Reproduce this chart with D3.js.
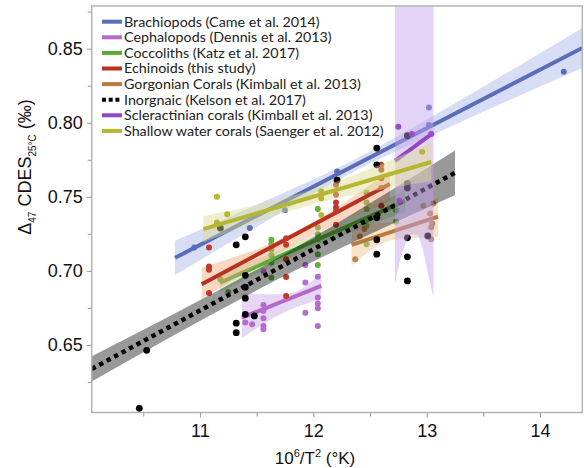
<!DOCTYPE html>
<html>
<head>
<meta charset="utf-8">
<script src="https://cdn.jsdelivr.net/npm/d3@7"></script>
<style>
body { margin: 0; background: #fff; }
</style>
</head>
<body>
<svg id="chart"></svg>
<script>
// points, [10^6/T^2, D47]
var brachiopods = [[10.95,0.7158],[11.44,0.7289],[11.75,0.741],[12.21,0.7671],[13.02,0.8103],[13.02,0.7985],[14.21,0.8345]]
var cephalopods = [[11.40,0.6651],[11.46,0.664],[11.56,0.700],[11.56,0.677],[11.56,0.673],[11.56,0.668],[11.56,0.6628],[11.56,0.6606],
    [11.93,0.7039],[11.93,0.6921],[11.93,0.6718],[12.04,0.6961],[12.04,0.682],[12.04,0.6779],[12.04,0.6748],[12.04,0.6628]]
var coccoliths = [[11.18,0.6944],[11.25,0.6858],[11.63,0.721],[11.63,0.718],[11.63,0.7142],[11.63,0.7106],[11.63,0.7056],[11.63,0.6955],
    [12.04,0.7417],[12.04,0.7293],[12.04,0.7248],[12.04,0.7214],[12.04,0.7113],[12.04,0.704],
    [12.47,0.7529],[12.47,0.7462],[12.47,0.7417],[12.47,0.7345],[12.47,0.7304],[12.47,0.718],[12.73,0.741],[12.73,0.7333]]
var echinoids = [[11.08,0.7158],[11.08,0.7029],[11.08,0.7007],[11.08,0.685],
    [11.76,0.7221],[11.76,0.7176],[11.76,0.7079],[11.76,0.6959],[11.76,0.6831],
    [12.20,0.7581],[12.20,0.7514],[12.20,0.7462],[12.20,0.7428],[12.20,0.7401],[12.20,0.7311],
    [12.60,0.7716],[12.60,0.7682],[12.60,0.7626],[12.60,0.7559],[12.60,0.7439]]
var gorgonian = [[12.37,0.7079],[12.41,0.7232],[12.45,0.7282],[12.97,0.744],[13.06,0.7455],[13.03,0.7387],[13.05,0.732],[13.04,0.7294],[13.04,0.7214]]
var inorganic = [[10.465,0.6072],[10.53,0.6464],[11.18,0.7289],[11.32,0.7176],[11.40,0.723],[11.40,0.697],[11.40,0.689],[11.40,0.6816],
    [11.40,0.6707],[11.32,0.6647],[11.32,0.6583],[11.48,0.6696],[12.21,0.7613],[12.56,0.7829],[12.56,0.7716],[12.56,0.736],
    [12.56,0.721],[12.56,0.7113],[12.83,0.7912],[12.83,0.759],[12.83,0.756],[12.83,0.7223],[12.83,0.7095],[12.83,0.6932],[13.01,0.7236]]
var scleractinian = [[12.75,0.7973],[12.87,0.7924],[13.04,0.7924],[12.76,0.7473]]
var shallow = [[11.15,0.750],[11.24,0.7383],[11.15,0.7327],[12.07,0.7536],[12.07,0.749],[12.07,0.7378],[12.96,0.7804]]

// fitted lines (end points) and confidence bands [x, lo, hi]
var brachFit = [[10.78,0.7088],[14.373,0.8505]]
var brachBand = [[10.78,0.6973,0.7203],[11.5,0.7297,0.7447],[12.3,0.7647,0.7727],[13.2,0.797,0.811],[14.373,0.837,0.864]]
var cephFit = [[11.37,0.6684],[12.07,0.6899]]
var cephBand = [[11.37,0.6547,0.6845],[11.75,0.6722,0.6842],[12.07,0.6811,0.6986]]
var coccoFit = [[11.176,0.692],[12.81,0.7473]]
var coccoBand = [[11.176,0.6855,0.6985],[12.0,0.7159,0.7239],[12.81,0.7398,0.7548]]
var echinFit = [[11.015,0.691],[12.675,0.7586]]
var echinBand = [[11.015,0.6809,0.7022],[11.85,0.7185,0.7265],[12.675,0.7473,0.7676]]
var gorgFit = [[12.338,0.7176],[13.10,0.7366]]
var gorgBand = [[12.338,0.7036,0.7316],[12.72,0.7212,0.7332],[13.10,0.7231,0.7501]]
var inorgFit = [[10.045,0.6338],[13.25,0.7662]]
var inorgBand = [[10.045,0.6253,0.6423],[11.8,0.6987,0.7137],[13.25,0.7512,0.7812]]
var sclerFit = [[12.72,0.7743],[13.06,0.7934]]
var sclerBand = [[12.72,0.6912,0.95],[12.765,0.707,0.95],[12.81,0.7175,0.95],[12.865,0.7245,0.95],
    [12.91,0.7245,0.95],[12.96,0.716,0.95],[13.01,0.699,0.95],[13.06,0.6818,0.95]]
var shallowFit = [[11.03,0.7282],[13.04,0.7735]]
var shallowBand = [[11.03,0.7194,0.737],[12.0,0.7449,0.7549],[13.04,0.7605,0.7865]]

var legendNames = ["Brachiopods (Came et al. 2014)", "Cephalopods (Dennis et al. 2013)", "Coccoliths (Katz et al. 2017)",
    "Echinoids (this study)", "Gorgonian Corals (Kimball et al. 2013)", "Inorgnaic (Kelson et al. 2017)",
    "Scleractinian corals (Kimball et al. 2013)", "Shallow water corals (Saenger et al. 2012)"]

var xMajor = [11, 12, 13, 14]
var xMinor = [10.5, 11.5, 12.5, 13.5]
var yMajor = [0.65, 0.70, 0.75, 0.80, 0.85]
var yMinor = [0.625, 0.675, 0.725, 0.775, 0.825, 0.875]

var series = [
    {name: legendNames[0], pts: brachiopods, fit: brachFit, band: brachBand, color: "#5a6db7", dot: "#5a6db7", bandFill: "#a9b3ea", bandOp: 0.45},
    {name: legendNames[1], pts: cephalopods, fit: cephFit, band: cephBand, color: "#b56ac9", dot: "#b76ccc", bandFill: "#c9a3e6", bandOp: 0.45},
    {name: legendNames[2], pts: coccoliths, fit: coccoFit, band: coccoBand, color: "#5aaa38", dot: "#62b03c", bandFill: "#a8d890", bandOp: 0.45},
    {name: legendNames[3], pts: echinoids, fit: echinFit, band: echinBand, color: "#b8321f", dot: "#c03a2a", bandFill: "#f0a67a", bandOp: 0.45},
    {name: legendNames[4], pts: gorgonian, fit: gorgFit, band: gorgBand, color: "#b87b3f", dot: "#c0864a", bandFill: "#e8c08a", bandOp: 0.45},
    {name: legendNames[5], pts: inorganic, fit: inorgFit, band: inorgBand, color: "#000", dot: "#000", bandFill: "#000", bandOp: 0.4, dotted: true},
    {name: legendNames[6], pts: scleractinian, fit: sclerFit, band: sclerBand, color: "#9345c2", dot: "#9a4cc6", bandFill: "#c0a0ee", bandOp: 0.45},
    {name: legendNames[7], pts: shallow, fit: shallowFit, band: shallowBand, color: "#b5b733", dot: "#b5b733", bandFill: "#dcdc90", bandOp: 0.45}
]

var dimensions = {
    width: 584,
    height: 468,
    margin: { top: 6, right: 1.7, bottom: 55.5, left: 91.7 }
}

var svg = d3.select("#chart")
    .attr("width", dimensions.width)
    .attr("height", dimensions.height)

var xScale = d3.scaleLinear()
    .domain([10.045, 14.373])
    .range([dimensions.margin.left, dimensions.width - dimensions.margin.right])

var yScale = d3.scaleLinear()
    .domain([0.6044, 0.8788])
    .range([dimensions.height - dimensions.margin.bottom, dimensions.margin.top])

svg.append("clipPath").attr("id", "plotclip")
    .append("rect")
    .attr("x", dimensions.margin.left)
    .attr("y", dimensions.margin.top)
    .attr("width", dimensions.width - dimensions.margin.left - dimensions.margin.right)
    .attr("height", dimensions.height - dimensions.margin.top - dimensions.margin.bottom)

var plot = svg.append("g").attr("clip-path", "url(#plotclip)")

var area = d3.area()
    .x(d => xScale(d[0]))
    .y0(d => yScale(d[1]))
    .y1(d => yScale(d[2]))
    .curve(d3.curveMonotoneX)

var line = d3.line()
    .x(d => xScale(d[0]))
    .y(d => yScale(d[1]))

series.forEach(s => {
    var g = plot.append("g")
    g.append("path")
        .attr("d", area(s.band))
        .attr("fill", s.bandFill)
        .attr("fill-opacity", s.bandOp)
    var fl = g.append("path")
        .attr("d", line(s.fit))
        .attr("fill", "none")
        .attr("stroke", s.color)
        .attr("stroke-width", 4)
    if (s.dotted) fl.attr("stroke-width", 4.5).attr("stroke-dasharray", "4.5,4")
    g.selectAll("circle")
        .data(s.pts)
        .enter()
        .append("circle")
        .attr("cx", d => xScale(d[0]))
        .attr("cy", d => yScale(d[1]))
        .attr("r", s.dotted ? 3.4 : 3)
        .attr("fill", s.dot)
})

// frame
svg.append("rect")
    .attr("x", dimensions.margin.left)
    .attr("y", dimensions.margin.top)
    .attr("width", dimensions.width - dimensions.margin.left - dimensions.margin.right)
    .attr("height", dimensions.height - dimensions.margin.top - dimensions.margin.bottom)
    .attr("fill", "none")
    .attr("stroke", "#b4b4b4")
    .attr("stroke-width", 1.5)

var bottomY = dimensions.height - dimensions.margin.bottom

var xAxisGen = d3.axisBottom(xScale).tickValues(xMajor).tickSize(5).tickFormat(d3.format("d"))
var xAxis = svg.append("g")
    .attr("transform", "translate(0," + bottomY + ")")
    .call(xAxisGen)
xAxis.select(".domain").remove()
xAxis.selectAll("line").attr("stroke", "#9a9a9a")
xAxis.selectAll("text")
    .attr("y", 12)
    .style("font-family", "Liberation Sans, Arial, sans-serif")
    .style("font-size", "18px")
    .attr("fill", "#111")

svg.append("g")
    .attr("transform", "translate(0," + bottomY + ")")
    .call(d3.axisBottom(xScale).tickValues(xMinor).tickSize(4).tickFormat(""))
    .call(g => g.select(".domain").remove())
    .selectAll("line").attr("stroke", "#9a9a9a")

var yAxisGen = d3.axisLeft(yScale).tickValues(yMajor).tickSize(5).tickFormat(d3.format(".2f"))
var yAxis = svg.append("g")
    .attr("transform", "translate(" + dimensions.margin.left + ",0)")
    .call(yAxisGen)
yAxis.select(".domain").remove()
yAxis.selectAll("line").attr("stroke", "#9a9a9a")
yAxis.selectAll("text")
    .attr("x", -9)
    .style("font-family", "Liberation Sans, Arial, sans-serif")
    .style("font-size", "18px")
    .attr("fill", "#111")

svg.append("g")
    .attr("transform", "translate(" + dimensions.margin.left + ",0)")
    .call(d3.axisLeft(yScale).tickValues(yMinor).tickSize(4).tickFormat(""))
    .call(g => g.select(".domain").remove())
    .selectAll("line").attr("stroke", "#9a9a9a")

// axis titles
var xt = svg.append("text")
    .attr("x", 315)
    .attr("y", 464)
    .attr("text-anchor", "middle")
    .style("font-family", "Liberation Sans, Arial, sans-serif")
    .style("font-size", "17px")
    .attr("fill", "#111")
xt.append("tspan").text("10")
xt.append("tspan").text("6").attr("dy", -7).style("font-size", "11px")
xt.append("tspan").text("/T").attr("dy", 7)
xt.append("tspan").text("2").attr("dy", -7).style("font-size", "11px")
xt.append("tspan").text(" (°K)").attr("dy", 7)

var yt = svg.append("text")
    .attr("transform", "translate(31,167) rotate(-90)")
    .attr("text-anchor", "middle")
    .style("font-family", "Liberation Sans, Arial, sans-serif")
    .style("font-size", "18px")
    .attr("fill", "#111")
yt.append("tspan").text("Δ")
yt.append("tspan").text("47").attr("dy", 5).style("font-size", "10px")
yt.append("tspan").text(" CDES").attr("dy", -5)
yt.append("tspan").text("25°C").attr("dy", 5).style("font-size", "10px")
yt.append("tspan").text(" (‰)").attr("dy", -5)

// legend
var legend = svg.append("g")
series.forEach((s, i) => {
    var ly = 21.7 + i * 15.6
    var ll = legend.append("line")
        .attr("x1", 102).attr("x2", 122)
        .attr("y1", ly).attr("y2", ly)
        .attr("stroke", s.color)
        .attr("stroke-width", 4)
    if (s.dotted) ll.attr("stroke-dasharray", "4,2.7")
    legend.append("text")
        .attr("x", 124)
        .attr("y", ly + 4.8)
        .style("font-family", "Lato, 'Open Sans', sans-serif")
        .style("font-size", "14.3px")
        .attr("fill", "#222")
        .text(s.name)
})
</script>
</body>
</html>
